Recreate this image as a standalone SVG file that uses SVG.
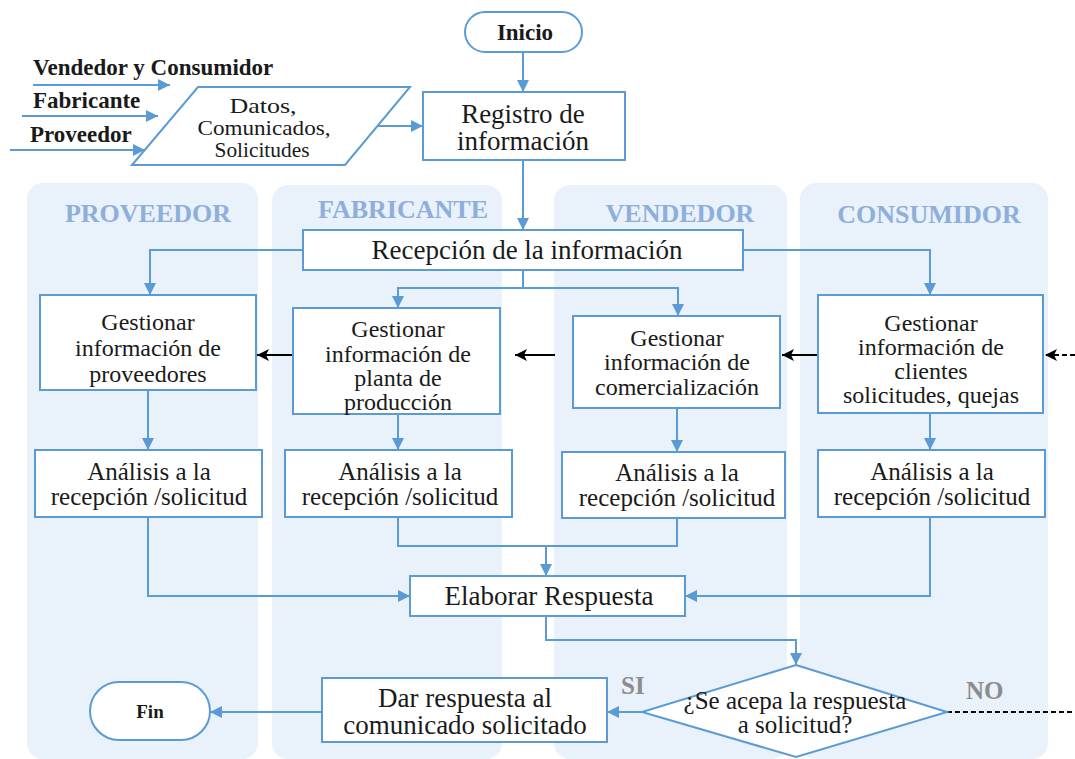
<svg xmlns="http://www.w3.org/2000/svg" width="1075" height="759" viewBox="0 0 1075 759">
<style>
.lane{fill:#e9f1fa;stroke:none}
.lt{font-family:"Liberation Serif",serif;font-weight:bold;font-size:26px;fill:#8eaedb;text-anchor:middle}
.box{fill:#fff;stroke:#5b9bd5;stroke-width:2}
.t{font-family:"Liberation Serif",serif;font-size:24px;fill:#1a1a1a;text-anchor:middle}
.b{font-family:"Liberation Serif",serif;font-weight:bold;fill:#1a1a1a}
.c{fill:none;stroke:#5b9bd5;stroke-width:2}
.k{fill:none;stroke:#000;stroke-width:1.8}
.g{font-family:"Liberation Serif",serif;font-weight:bold;font-size:25px;fill:#8c8c8c}
</style>
<defs>
<marker id="ab" markerUnits="userSpaceOnUse" markerWidth="14" markerHeight="12" refX="12" refY="6" orient="auto"><path d="M0,0 L12,6 L0,12 Z" fill="#5b9bd5"/></marker>
<marker id="ak" markerUnits="userSpaceOnUse" markerWidth="14" markerHeight="12" refX="12" refY="6" orient="auto"><path d="M0,0 L12,6 L0,12 L3,6 Z" fill="#000"/></marker>
</defs>
<g id="lanes">
<rect class="lane" x="27" y="183" width="231" height="576" rx="16"/>
<rect class="lane" x="272" y="185" width="230" height="574" rx="16"/>
<rect class="lane" x="554" y="185" width="233" height="574" rx="16"/>
<rect class="lane" x="800" y="183" width="248" height="576" rx="16"/>
<text class="lt" x="148" y="222">PROVEEDOR</text>
<text class="lt" x="403" y="218">FABRICANTE</text>
<text class="lt" x="680" y="222">VENDEDOR</text>
<text class="lt" x="929" y="223">CONSUMIDOR</text>
</g>
<g id="connectors">
<path class="c" d="M33,85 H170" marker-end="url(#ab)"/>
<path class="c" d="M22,116 H158" marker-end="url(#ab)"/>
<path class="c" d="M10,150 H145" marker-end="url(#ab)"/>
<path class="c" d="M378,126 H423" marker-end="url(#ab)"/>
<path class="c" d="M523,52 V92" marker-end="url(#ab)"/>
<path class="c" d="M523,160 V230" marker-end="url(#ab)"/>
<path class="c" d="M303,250 H150 V295" marker-end="url(#ab)"/>
<path class="c" d="M523,270 V288 H398 V308" marker-end="url(#ab)"/>
<path class="c" d="M523,288 H678 V316" marker-end="url(#ab)"/>
<path class="c" d="M743,250 H930 V295" marker-end="url(#ab)"/>
<path class="k" d="M293,355 H257" marker-end="url(#ak)"/>
<path class="k" d="M555,355 H515" marker-end="url(#ak)"/>
<path class="k" d="M818,355 H782" marker-end="url(#ak)"/>
<path class="k" d="M1075,355 H1045" stroke-dasharray="5,3" marker-end="url(#ak)"/>
<path class="c" d="M148,390 V450" marker-end="url(#ab)"/>
<path class="c" d="M398,414 V450" marker-end="url(#ab)"/>
<path class="c" d="M677,408 V452" marker-end="url(#ab)"/>
<path class="c" d="M930,413 V450" marker-end="url(#ab)"/>
<path class="c" d="M148,517 V596 H410" marker-end="url(#ab)"/>
<path class="c" d="M398,517 V546 H677 V518"/>
<path class="c" d="M546,546 V576" marker-end="url(#ab)"/>
<path class="c" d="M930,517 V596 H685" marker-end="url(#ab)"/>
<path class="c" d="M546,616 V640 H796 V665" marker-end="url(#ab)"/>
<path class="c" d="M642,712 H607" marker-end="url(#ab)"/>
<path class="c" d="M322,712 H210" marker-end="url(#ab)"/>
<path class="k" d="M947,712 H1075" stroke-dasharray="5,3"/>
</g>
<g id="inputs">
<text class="b" x="33" y="75" style="font-size:23px">Vendedor y Consumidor</text>
<text class="b" x="33" y="108" style="font-size:23px">Fabricante</text>
<text class="b" x="30" y="142" style="font-size:23px">Proveedor</text>
</g>
<g id="inicio">
<rect class="box" x="465" y="12" width="117" height="40" rx="20"/>
<text class="b" x="525" y="40" style="font-size:23px" text-anchor="middle">Inicio</text>
</g>
<g id="datos">
<polygon class="box" points="198,87 410,87 345,165 132,165"/>
<text class="t" x="263" y="113" style="font-size:21px" textLength="67" lengthAdjust="spacingAndGlyphs">Datos,</text>
<text class="t" x="264" y="135" style="font-size:21px" textLength="133" lengthAdjust="spacingAndGlyphs">Comunicados,</text>
<text class="t" x="262" y="157" style="font-size:21px" textLength="95" lengthAdjust="spacingAndGlyphs">Solicitudes</text>
</g>
<g id="registro">
<rect class="box" x="423" y="92" width="202" height="68"/>
<text class="t" x="523" y="123" style="font-size:27px">Registro de</text>
<text class="t" x="523" y="150" style="font-size:27px">información</text>
</g>
<g id="recepcion">
<rect class="box" x="303" y="230" width="440" height="40"/>
<text class="t" x="527" y="259" style="font-size:27px">Recepción de la información</text>
</g>
<g id="gest-prov">
<rect class="box" x="40" y="295" width="216" height="95"/>
<text class="t" x="148" y="330">Gestionar</text>
<text class="t" x="148" y="356">información de</text>
<text class="t" x="148" y="382">proveedores</text>
</g>
<g id="gest-fab">
<rect class="box" x="293" y="308" width="207" height="106"/>
<text class="t" x="398" y="337">Gestionar</text>
<text class="t" x="398" y="362">información de</text>
<text class="t" x="398" y="386">planta de</text>
<text class="t" x="398" y="410">producción</text>
</g>
<g id="gest-vend">
<rect class="box" x="573" y="316" width="207" height="92"/>
<text class="t" x="677" y="346">Gestionar</text>
<text class="t" x="677" y="370">información de</text>
<text class="t" x="677" y="395">comercialización</text>
</g>
<g id="gest-cons">
<rect class="box" x="818" y="295" width="225" height="118"/>
<text class="t" x="931" y="331">Gestionar</text>
<text class="t" x="931" y="355">información de</text>
<text class="t" x="931" y="379">clientes</text>
<text class="t" x="931" y="403">solicitudes, quejas</text>
</g>
<g id="anal-prov">
<rect class="box" x="35" y="450" width="227" height="67"/>
<text class="t" x="149" y="480" style="font-size:25px">Análisis a la</text>
<text class="t" x="149" y="505" style="font-size:25px">recepción /solicitud</text>
</g>
<g id="anal-fab">
<rect class="box" x="285" y="450" width="227" height="67"/>
<text class="t" x="400" y="480" style="font-size:25px">Análisis a la</text>
<text class="t" x="400" y="505" style="font-size:25px">recepción /solicitud</text>
</g>
<g id="anal-vend">
<rect class="box" x="562" y="452" width="223" height="66"/>
<text class="t" x="677" y="481" style="font-size:25px">Análisis a la</text>
<text class="t" x="677" y="506" style="font-size:25px">recepción /solicitud</text>
</g>
<g id="anal-cons">
<rect class="box" x="818" y="450" width="227" height="67"/>
<text class="t" x="932" y="480" style="font-size:25px">Análisis a la</text>
<text class="t" x="932" y="505" style="font-size:25px">recepción /solicitud</text>
</g>
<g id="elaborar">
<rect class="box" x="410" y="576" width="275" height="40"/>
<text class="t" x="549" y="605" style="font-size:27px">Elaborar Respuesta</text>
</g>
<g id="decision">
<polygon class="box" points="796,665 947,712 796,757 642,712"/>
<text class="t" x="795" y="709" style="font-size:25px">¿Se acepa la respuesta</text>
<text class="t" x="795" y="733" style="font-size:25px">a solicitud?</text>
<text class="g" x="621" y="694">SI</text>
<text class="g" x="966" y="699">NO</text>
</g>
<g id="dar">
<rect class="box" x="322" y="678" width="285" height="64"/>
<text class="t" x="465" y="707" style="font-size:27px">Dar respuesta al</text>
<text class="t" x="465" y="734" style="font-size:27px">comunicado solicitado</text>
</g>
<g id="fin">
<rect class="box" x="90" y="682" width="120" height="58" rx="29"/>
<text class="b" x="150" y="718" style="font-size:19px" text-anchor="middle">Fin</text>
</g>
</svg>
